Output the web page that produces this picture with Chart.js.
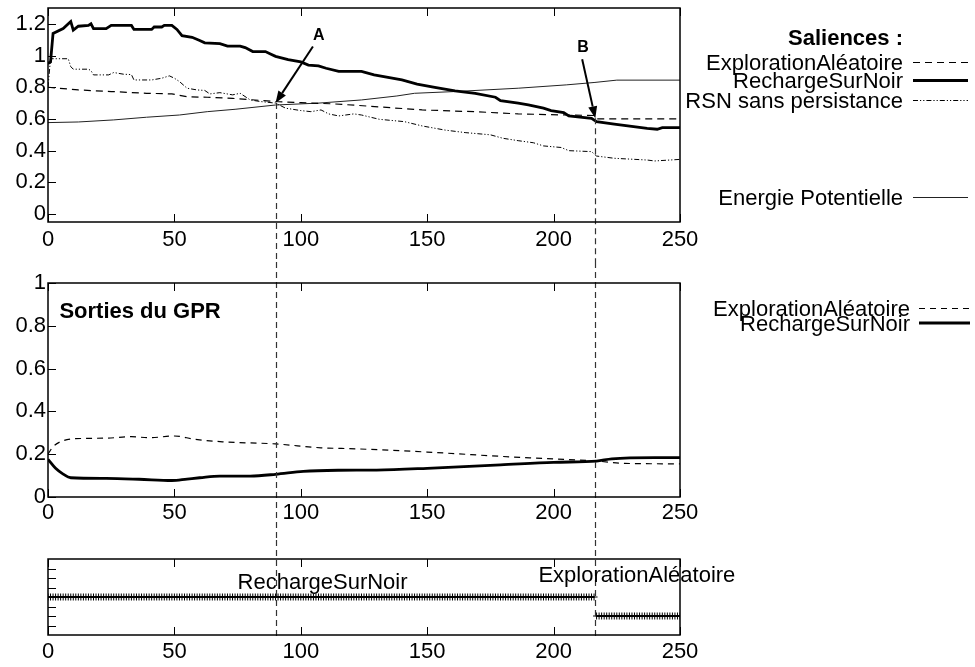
<!DOCTYPE html>
<html>
<head>
<meta charset="utf-8">
<script src="https://cdn.jsdelivr.net/npm/chart.js@4.4.1/dist/chart.umd.min.js"></script>
<style>
  html, body { margin: 0; padding: 0; background: #fff; }
  #wrap { position: relative; width: 975px; height: 667px; }
  canvas { position: absolute; left: 0; }
  #top { top: 0; }
  #mid { top: 262px; }
  #bot { top: 540px; }
</style>
</head>
<body>
<div id="wrap">
  <canvas id="top" width="975" height="262"></canvas>
  <canvas id="mid" width="975" height="278"></canvas>
  <canvas id="bot" width="975" height="127"></canvas>
</div>
<script>
// time axis shared by the three panels
const timeTicks = [0, 50, 100, 150, 200, 250];
const salienceTicks = [0, 0.2, 0.4, 0.6, 0.8, 1, 1.2];
const outputTicks = [0, 0.2, 0.4, 0.6, 0.8, 1];
const actionTicks = [0, 1, 2, 3, 4, 5, 6];

// saliences
const eaT = [0, 12, 25, 39, 49, 55, 63, 73, 90, 100, 113, 123, 148, 170, 186, 205, 216, 217, 250];
const eaSal = [0.80, 0.783, 0.773, 0.762, 0.758, 0.74, 0.737, 0.73, 0.71, 0.703, 0.695, 0.685, 0.657, 0.645, 0.632, 0.625, 0.622, 0.60, 0.60];

const rsnT = [0, 1, 2, 6, 9, 10, 12, 16, 17, 18, 23, 25, 33, 34, 41, 42, 45, 46, 49, 51, 53, 57, 60, 62, 68, 71, 76, 78, 81, 86, 88, 90, 95, 100, 103, 107, 110, 115, 124, 129, 140, 146, 153, 161, 169, 177, 179, 186, 190, 196, 199, 204, 206, 215, 217, 224, 237, 241, 243, 250];
const rsnSal = [0.95, 0.96, 1.14, 1.17, 1.215, 1.16, 1.185, 1.19, 1.2, 1.17, 1.17, 1.19, 1.19, 1.165, 1.165, 1.18, 1.18, 1.19, 1.19, 1.165, 1.125, 1.115, 1.095, 1.08, 1.075, 1.06, 1.06, 1.05, 1.025, 1.025, 1.01, 0.995, 0.975, 0.96, 0.94, 0.935, 0.92, 0.90, 0.90, 0.878, 0.846, 0.82, 0.80, 0.777, 0.762, 0.737, 0.716, 0.70, 0.689, 0.668, 0.653, 0.64, 0.619, 0.604, 0.583, 0.568, 0.541, 0.535, 0.545, 0.545];

const rsnSpT = [0, 1, 8, 9, 10, 16, 17, 18, 24, 26, 30, 33, 34, 41, 45, 48, 50, 52, 55, 59, 62, 64, 68, 73, 76, 80, 84, 90, 94, 100, 104, 108, 111, 115, 121, 124, 131, 141, 148, 157, 165, 175, 180, 186, 192, 196, 203, 206, 215, 217, 224, 237, 240, 250];
const rsnSpSal = [0.80, 0.98, 0.98, 0.93, 0.914, 0.914, 0.905, 0.878, 0.878, 0.893, 0.882, 0.88, 0.846, 0.846, 0.857, 0.872, 0.857, 0.836, 0.794, 0.783, 0.78, 0.758, 0.766, 0.752, 0.762, 0.72, 0.71, 0.70, 0.668, 0.653, 0.646, 0.657, 0.632, 0.619, 0.632, 0.625, 0.598, 0.583, 0.556, 0.53, 0.514, 0.50, 0.478, 0.463, 0.45, 0.43, 0.42, 0.40, 0.394, 0.366, 0.352, 0.341, 0.335, 0.345];

const epT = [0, 12, 26, 39, 52, 63, 74, 90, 107, 124, 138, 145, 161, 186, 205, 216, 225, 250];
const epVal = [0.577, 0.581, 0.594, 0.611, 0.625, 0.646, 0.661, 0.688, 0.70, 0.72, 0.745, 0.762, 0.773, 0.794, 0.815, 0.83, 0.845, 0.845];

// GPR outputs
const eaOutT = [0, 2, 6, 10, 23, 33, 40, 50, 58, 69, 90, 108, 122, 150, 179, 200, 217, 228, 250];
const eaOut = [0.20, 0.235, 0.263, 0.272, 0.275, 0.282, 0.277, 0.285, 0.27, 0.258, 0.248, 0.23, 0.225, 0.21, 0.19, 0.178, 0.168, 0.157, 0.155];
const rsnOutT = [0, 3, 6, 9, 23, 36, 49, 55, 60, 68, 80, 90, 101, 115, 130, 150, 179, 200, 217, 223, 240, 250];
const rsnOut = [0.176, 0.134, 0.107, 0.09, 0.087, 0.083, 0.077, 0.084, 0.09, 0.098, 0.098, 0.106, 0.12, 0.125, 0.126, 0.134, 0.15, 0.162, 0.168, 0.178, 0.184, 0.184];

// selected action, one run per action
const actionNames = ['RechargeSurNoir', 'ExplorationAléatoire'];
const actionStart = [0, 217];
const actionEnd = [216, 250];
const actionLevel = [3, 1];

// switching instants A and B, with the salience where the arrows point
const markerTimes = [90, 216.5];
const markerLabels = ['A', 'B'];
const markerValues = [0.70, 0.604];

const FONT = '"Liberation Sans", Arial, sans-serif';
Chart.defaults.font.family = FONT;
Chart.defaults.font.size = 22;
Chart.defaults.color = '#000';

const pts = (xs, ys) => xs.map((x, i) => ({ x: x, y: ys[i] }));

// fixed axis sizes so the three plot areas line up
function xAxis(h, pad) {
  return {
    type: 'linear', min: 0, max: 250,
    grid: { display: false, drawTicks: false },
    border: { display: false },
    ticks: { padding: pad, maxRotation: 0, autoSkip: false },
    afterBuildTicks: s => { s.ticks = timeTicks.map(v => ({ value: v })); },
    afterFit: s => { s.height = h; s.paddingLeft = 0; s.paddingRight = 0; }
  };
}

function yAxis(min, max, ticks, showLabels) {
  return {
    type: 'linear', min: min, max: max,
    grid: { display: false, drawTicks: false },
    border: { display: false },
    ticks: { display: showLabels, padding: 2, callback: v => String(Math.round(v * 10) / 10) },
    afterBuildTicks: s => { s.ticks = ticks.map(v => ({ value: v })); },
    afterFit: s => { s.width = 48; s.paddingTop = 0; s.paddingBottom = 0; }
  };
}

// box around the plot with inward ticks, gnuplot style
const framePlugin = {
  id: 'frame',
  afterDraw(chart) {
    const { ctx, chartArea: a } = chart;
    const xs = chart.scales.x, ys = chart.scales.y;
    ctx.save();
    ctx.strokeStyle = '#000';
    ctx.lineWidth = 1;
    ctx.beginPath();
    xs.ticks.forEach(t => {
      const px = Math.round(xs.getPixelForValue(t.value)) + 0.5;
      ctx.moveTo(px, a.bottom); ctx.lineTo(px, a.bottom - 8);
      ctx.moveTo(px, a.top); ctx.lineTo(px, a.top + 8);
    });
    ys.ticks.forEach(t => {
      const py = Math.round(ys.getPixelForValue(t.value)) + 0.5;
      ctx.moveTo(a.left, py); ctx.lineTo(a.left + 8, py);
    });
    ctx.stroke();
    ctx.lineWidth = 1.5;
    ctx.strokeRect(a.left, a.top, a.right - a.left, a.bottom - a.top);
    ctx.restore();
  }
};

// dashed verticals at the switching instants, running through all panels
const markerPlugin = {
  id: 'markers',
  afterDatasetsDraw(chart, args, o) {
    const { ctx, chartArea: a } = chart;
    const xs = chart.scales.x, ys = chart.scales.y;
    ctx.save();
    ctx.strokeStyle = '#333';
    ctx.lineWidth = 1.2;
    ctx.setLineDash([6, 4]);
    markerTimes.forEach((t, i) => {
      const px = Math.round(xs.getPixelForValue(t)) + 0.5;
      const y0 = o.fromValue ? ys.getPixelForValue(markerValues[i]) : 0;
      const y1 = o.toArea ? a.bottom + 2 : chart.height;
      ctx.beginPath(); ctx.moveTo(px, y0); ctx.lineTo(px, y1); ctx.stroke();
    });
    ctx.restore();
  }
};

// labelled arrows pointing at A and B
const arrowPlugin = {
  id: 'arrows',
  afterDatasetsDraw(chart, args, o) {
    if (!o.tails) return;
    const ctx = chart.ctx, xs = chart.scales.x, ys = chart.scales.y;
    ctx.save();
    ctx.strokeStyle = '#000'; ctx.fillStyle = '#000';
    ctx.lineWidth = 2;
    markerTimes.forEach((t, i) => {
      const tx = xs.getPixelForValue(t), ty = ys.getPixelForValue(markerValues[i]);
      const sx = xs.getPixelForValue(o.tails[i][0]), sy = ys.getPixelForValue(o.tails[i][1]);
      const ang = Math.atan2(ty - sy, tx - sx);
      const hl = 12, hw = 4.5;
      const bx = tx - Math.cos(ang) * hl, by = ty - Math.sin(ang) * hl;
      ctx.beginPath(); ctx.moveTo(sx, sy); ctx.lineTo(bx, by); ctx.stroke();
      ctx.beginPath();
      ctx.moveTo(tx, ty);
      ctx.lineTo(bx + Math.sin(ang) * hw, by - Math.cos(ang) * hw);
      ctx.lineTo(bx - Math.sin(ang) * hw, by + Math.cos(ang) * hw);
      ctx.closePath(); ctx.fill();
      ctx.font = 'bold 16px ' + FONT;
      ctx.textAlign = 'center';
      ctx.fillText(markerLabels[i], xs.getPixelForValue(o.labels[i][0]), ys.getPixelForValue(o.labels[i][1]));
    });
    ctx.restore();
  }
};

// legend to the right: text right-aligned, line sample after it
const sideLegend = {
  id: 'sideLegend',
  afterDraw(chart, args, o) {
    if (!o.rows) return;
    const ctx = chart.ctx;
    ctx.save();
    ctx.fillStyle = '#000';
    ctx.textAlign = 'right';
    ctx.textBaseline = 'alphabetic';
    if (o.title) {
      ctx.font = 'bold 22px ' + FONT;
      ctx.fillText(o.title, o.textRight, o.titleY);
    }
    ctx.font = '22px ' + FONT;
    chart.data.datasets.forEach((ds, i) => {
      const y = o.rows[i];
      ctx.fillText(ds.label, o.textRight, y);
      ctx.beginPath();
      ctx.setLineDash(ds.borderDash || []);
      ctx.lineWidth = ds.borderWidth;
      ctx.strokeStyle = ds.borderColor;
      ctx.moveTo(o.lineFrom, y - 7.5); ctx.lineTo(o.lineTo, y - 7.5);
      ctx.stroke();
    });
    ctx.restore();
  }
};

// free text placed in data coordinates
const textPlugin = {
  id: 'texts',
  afterDraw(chart, args, o) {
    if (!o.items) return;
    const ctx = chart.ctx, xs = chart.scales.x, ys = chart.scales.y;
    ctx.save();
    ctx.fillStyle = '#000';
    o.items.forEach(it => {
      ctx.font = (it.bold ? 'bold ' : '') + '22px ' + FONT;
      ctx.textAlign = 'left';
      ctx.fillText(it.text, xs.getPixelForValue(it.x), ys.getPixelForValue(it.y));
    });
    ctx.restore();
  }
};

const plugins = [framePlugin, markerPlugin, arrowPlugin, sideLegend, textPlugin];
const base = { responsive: false, animation: false, events: [] };

// top: saliences
new Chart(document.getElementById('top'), {
  type: 'line',
  data: {
    datasets: [
      { label: 'ExplorationAléatoire', data: pts(eaT, eaSal), borderColor: '#000', borderWidth: 1.2, borderDash: [7, 5] },
      { label: 'RechargeSurNoir', data: pts(rsnT, rsnSal), borderColor: '#000', borderWidth: 2.8 },
      { label: 'RSN sans persistance', data: pts(rsnSpT, rsnSpSal), borderColor: '#000', borderWidth: 1, borderDash: [5, 2, 1.2, 2, 1.2, 2] },
      { label: 'Energie Potentielle', data: pts(epT, epVal), borderColor: '#222', borderWidth: 1 }
    ]
  },
  options: Object.assign({}, base, {
    layout: { padding: { top: 8, right: 295, left: 0, bottom: 0 } },
    elements: { point: { radius: 0 }, line: { tension: 0 } },
    scales: { x: xAxis(40, 5), y: yAxis(-0.05, 1.3, salienceTicks, true) },
    plugins: {
      legend: { display: false }, tooltip: { enabled: false },
      markers: { fromValue: true, toArea: false },
      arrows: { tails: [[104.8, 1.057], [211.3, 0.977]], labels: [[107.1, 1.1], [211.6, 1.025]] },
      sideLegend: { title: 'Saliences :', titleY: 45, rows: [70, 88, 108, 205], textRight: 903, lineFrom: 913, lineTo: 968 }
    }
  }),
  plugins: plugins
});

// middle: GPR outputs
new Chart(document.getElementById('mid'), {
  type: 'line',
  data: {
    datasets: [
      { label: 'ExplorationAléatoire', data: pts(eaOutT, eaOut), borderColor: '#000', borderWidth: 1.2, borderDash: [6, 5] },
      { label: 'RechargeSurNoir', data: pts(rsnOutT, rsnOut), borderColor: '#000', borderWidth: 2.8 }
    ]
  },
  options: Object.assign({}, base, {
    layout: { padding: { top: 21, right: 295, left: 0, bottom: 0 } },
    elements: { point: { radius: 0 }, line: { cubicInterpolationMode: 'monotone' } },
    scales: { x: xAxis(43, 3), y: yAxis(0, 1, outputTicks, true) },
    plugins: {
      legend: { display: false }, tooltip: { enabled: false },
      markers: { fromValue: false, toArea: false },
      sideLegend: { rows: [54, 68.5], textRight: 910, lineFrom: 919, lineTo: 970 },
      texts: { items: [{ text: 'Sorties du GPR', x: 4.5, y: 0.838, bold: true }] }
    }
  }),
  plugins: plugins
});

// bottom: selected action at each step
const actionSets = actionNames.map((name, k) => {
  const data = [];
  for (let t = actionStart[k]; t <= actionEnd[k]; t++) data.push({ x: t, y: actionLevel[k] });
  return {
    label: name, data: data, borderColor: '#000', borderWidth: 2,
    pointStyle: 'cross', pointRadius: 3.5, pointBorderWidth: 1, pointBorderColor: '#000'
  };
});

new Chart(document.getElementById('bot'), {
  type: 'line',
  data: { datasets: actionSets },
  options: Object.assign({}, base, {
    layout: { padding: { top: 19, right: 295, left: 0, bottom: 0 } },
    scales: { x: xAxis(32, 4), y: yAxis(-1, 7, actionTicks, false) },
    plugins: {
      legend: { display: false }, tooltip: { enabled: false },
      markers: { fromValue: false, toArea: true },
      texts: { items: [
        { text: actionNames[0], x: 75, y: 3.84 },
        { text: actionNames[1], x: 194, y: 4.53 }
      ] }
    }
  }),
  plugins: plugins
});
</script>
</body>
</html>
